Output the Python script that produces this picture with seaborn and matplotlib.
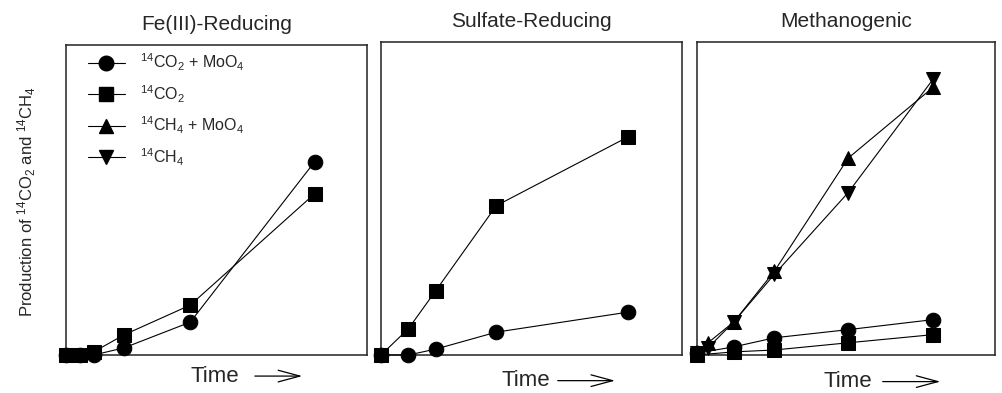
import numpy as np
import matplotlib
matplotlib.use('Agg')
import matplotlib.pyplot as plt
import seaborn as sns
from matplotlib.lines import Line2D

sns.set_theme(style='white')
plt.rcParams['font.family'] = ['Liberation Sans', 'DejaVu Sans']
plt.rcParams['mathtext.default'] = 'regular'

# time points (days) and relative production values
fe_time = [0, 5, 10, 21, 45, 90]
fe_co2_moo4 = [0, 0, 0, 2.3, 10.6, 62.3]
fe_co2 = [0, 0, 1.0, 6.5, 16.1, 52.0]

so4_time = [0, 5, 10, 21, 45]
so4_co2_moo4 = [0, 0, 1.9, 7.3, 13.7]
so4_co2 = [0, 8.4, 20.6, 47.7, 69.7]

ch4_time = [0, 3, 10, 21, 41, 64]
ch4_time_co2 = [0, 10, 21, 41, 64]
ch4_co2_moo4 = [0.6, 2.6, 5.5, 8.1, 11.3]
ch4_co2 = [0, 1.0, 1.6, 3.9, 6.5]
ch4_ch4_moo4 = [0.6, 3.9, 10.6, 26.8, 62.9, 85.5]
ch4_ch4 = [0.6, 2.3, 10.6, 25.8, 51.9, 88.1]

labels = [r'$^{14}$CO$_2$ + MoO$_4$', r'$^{14}$CO$_2$',
          r'$^{14}$CH$_4$ + MoO$_4$', r'$^{14}$CH$_4$']
markers = ['o', 's', '^', 'v']
msizes = [10.5, 9.5, 10.5, 10.5]
titles = ['Fe(III)-Reducing', 'Sulfate-Reducing', 'Methanogenic']

panels = [
    [(fe_time, fe_co2_moo4, 0), (fe_time, fe_co2, 1)],
    [(so4_time, so4_co2_moo4, 0), (so4_time, so4_co2, 1)],
    [(ch4_time_co2, ch4_co2_moo4, 0), (ch4_time_co2, ch4_co2, 1),
     (ch4_time, ch4_ch4_moo4, 2), (ch4_time, ch4_ch4, 3)],
]
xmax = [109, 54.8, 80.8]

fig = plt.figure(figsize=(10.02, 3.93), dpi=100)
boxes = [(0.0659, 0.0967, 0.3004, 0.7888),
         (0.3802, 0.0967, 0.3004, 0.7964),
         (0.6956, 0.0967, 0.2974, 0.7964)]
time_pos = [(0.495, 0.618, 0.794, -0.068), (0.482, 0.578, 0.787, -0.082),
            (0.507, 0.614, 0.826, -0.085)]

for i, box in enumerate(boxes):
    ax = fig.add_axes(box)
    for x, y, k in panels[i]:
        sns.lineplot(x=x, y=y, ax=ax, color='black', lw=0.8,
                     marker=markers[k], markersize=msizes[k],
                     markeredgecolor='black', clip_on=False, zorder=3)
    ax.set_xlim(0, xmax[i])
    ax.set_ylim(0, 100)
    ax.set_xticks([])
    ax.set_yticks([])
    ax.set_xlabel('')
    ax.set_ylabel('')
    for s in ax.spines.values():
        s.set_color('#222222')
        s.set_linewidth(1.1)
    ax.set_title(titles[i], fontsize=15, pad=11)
    tx, a0, a1, ty = time_pos[i]
    ax.text(tx, ty, 'Time', transform=ax.transAxes, ha='center',
            va='center', fontsize=16)
    ax.annotate('', xy=(a1, ty), xytext=(a0, ty), xycoords='axes fraction',
                annotation_clip=False,
                arrowprops=dict(arrowstyle='->,head_length=1.3,head_width=0.35',
                                lw=0.9, color='black'))
    if i == 0:
        handles = [Line2D([], [], color='black', lw=0.8, marker=m,
                          markersize=ms) for m, ms in zip(markers, msizes)]
        ax.legend(handles, labels, loc='upper left',
                  bbox_to_anchor=(0.073, 0.978), frameon=False, fontsize=11.5,
                  handlelength=2.3, handletextpad=0.95, labelspacing=0.63,
                  borderpad=0, borderaxespad=0)

fig.text(0.027, 0.486, r'Production of $^{14}$CO$_2$ and $^{14}$CH$_4$',
         rotation=90, ha='center', va='center', fontsize=12)

fig.savefig('out.png', dpi=100)
